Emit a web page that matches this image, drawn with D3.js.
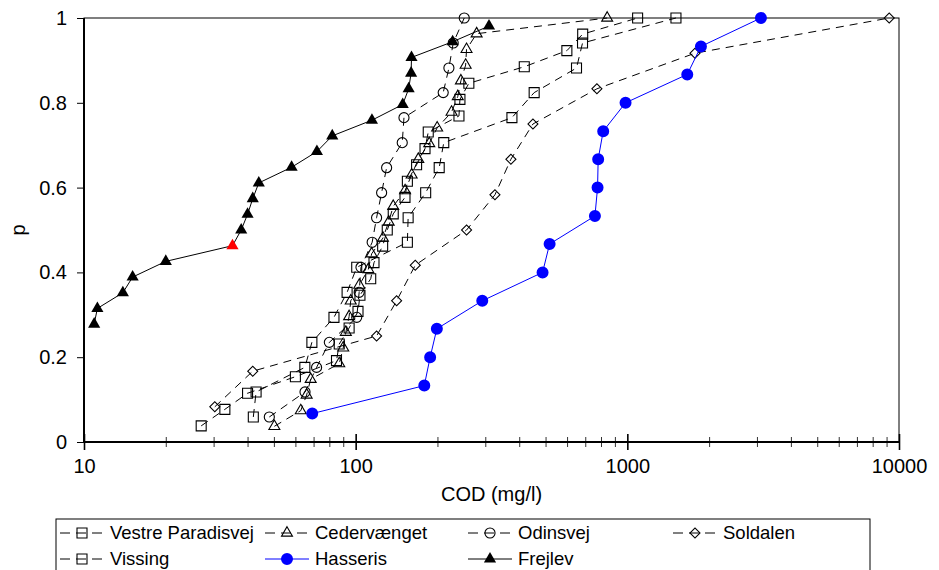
<!DOCTYPE html>
<html>
<head>
<meta charset="utf-8">
<script src="https://cdn.jsdelivr.net/npm/d3@7"></script>
<style>
  body { margin: 0; background: #fff; }
  text { font-family: "Liberation Sans", Arial, sans-serif; }
</style>
</head>
<body>
<div id="chart"></div>
<script>

// Chart size and plot box
const width = 939;
const height = 570;
const margin = {left: 84, right: 40, top: 18, bottom: 128};

// COD values (mg/l) and plotting positions p for each site
const vestreCOD = [27, 33, 40, 60, 85, 87, 94.6, 102, 103.7, 113.6, 116.8, 125.7, 130.7, 137.5, 151.9, 155, 167.6, 180, 185, 240, 242, 261, 417.5, 599, 685, 1091];
const vestreP = [0.038, 0.077, 0.115, 0.154, 0.192, 0.231, 0.269, 0.308, 0.346, 0.385, 0.423, 0.462, 0.5, 0.538, 0.577, 0.615, 0.654, 0.692, 0.731, 0.769, 0.808, 0.846, 0.885, 0.923, 0.962, 1];

const cederCOD = [50.2, 62.8, 66, 68.3, 87, 90, 92, 94.6, 95.9, 103.1, 111.3, 114.5, 126, 132.3, 137.5, 152, 160.7, 170, 186.6, 199.5, 225.4, 237.6, 244, 254, 255.9, 278.8, 843];
const cederP = [0.037, 0.074, 0.111, 0.148, 0.185, 0.222, 0.259, 0.296, 0.333, 0.370, 0.407, 0.444, 0.481, 0.519, 0.556, 0.593, 0.630, 0.667, 0.704, 0.741, 0.778, 0.815, 0.852, 0.889, 0.926, 0.963, 1];

const odinCOD = [48.1, 65.1, 71.8, 80, 100.9, 103, 104.6, 115, 119.4, 124.6, 130, 148.4, 150.6, 210, 220.4, 228.6, 251];
const odinP = [0.059, 0.118, 0.176, 0.235, 0.294, 0.353, 0.412, 0.471, 0.529, 0.588, 0.647, 0.706, 0.765, 0.824, 0.882, 0.941, 1];

const solCOD = [30.3, 41.8, 119.4, 141.5, 165.7, 256, 325.6, 372.8, 449.3, 772.7, 1774, 9205];
const solP = [0.083, 0.167, 0.25, 0.333, 0.417, 0.5, 0.583, 0.667, 0.75, 0.833, 0.917, 1];

const vissCOD = [42, 43, 65, 69, 83.2, 93, 100.9, 155, 156, 181, 203, 211, 376, 454, 650, 684, 1510];
const vissP = [0.059, 0.118, 0.176, 0.235, 0.294, 0.353, 0.412, 0.471, 0.529, 0.588, 0.647, 0.706, 0.765, 0.824, 0.882, 0.941, 1];

const hassCOD = [69.2, 178.9, 188, 199, 292.4, 487.5, 517.5, 759.8, 777, 781, 815, 985, 1662, 1866, 3103];
const hassP = [0.067, 0.133, 0.2, 0.267, 0.333, 0.4, 0.467, 0.533, 0.6, 0.667, 0.733, 0.8, 0.867, 0.933, 1];

const frejCOD = [10.9, 11.2, 13.9, 15.1, 20, 35.2, 37.9, 40, 41.8, 44, 58.1, 72, 82, 114.8, 149, 156.7, 160, 160.5, 227.5, 309.6];
const frejP = [0.278, 0.315, 0.352, 0.389, 0.426, 0.463, 0.5, 0.537, 0.574, 0.611, 0.648, 0.685, 0.722, 0.759, 0.796, 0.833, 0.870, 0.907, 0.944, 0.981];
const frejRed = 35.2; // the one highlighted point

// axis ticks
const xMajor = [10, 100, 1000, 10000];
const yTicks = [0, 0.2, 0.4, 0.6, 0.8, 1];

// series list (built from the arrays above)
const series = [
  {name: "Vestre Paradisvej", cod: vestreCOD, p: vestreP, sym: "square", dash: true, color: "#000", fill: "none"},
  {name: "Cedervænget", cod: cederCOD, p: cederP, sym: "triangle", dash: true, color: "#000", fill: "none"},
  {name: "Odinsvej", cod: odinCOD, p: odinP, sym: "circle", dash: true, color: "#000", fill: "none"},
  {name: "Soldalen", cod: solCOD, p: solP, sym: "diamond", dash: true, color: "#000", fill: "none"},
  {name: "Vissing", cod: vissCOD, p: vissP, sym: "square", dash: true, color: "#000", fill: "none"},
  {name: "Hasseris", cod: hassCOD, p: hassP, sym: "dot", dash: false, color: "#0000ff", fill: "#0000ff"},
  {name: "Frejlev", cod: frejCOD, p: frejP, sym: "filltri", dash: false, color: "#000", fill: "#000"}
];

const svg = d3.select("#chart")
  .append("svg")
  .attr("width", width)
  .attr("height", height);

// scales
const x = d3.scaleLog()
  .domain([10, 10000])
  .range([margin.left, width - margin.right]);

const y = d3.scaleLinear()
  .domain([0, 1])
  .range([height - margin.bottom, margin.top]);

const x0 = x.range()[0], x1 = x.range()[1];
const y0 = y.range()[0], y1 = y.range()[1];

// plot frame (top and right thin)
svg.append("rect")
  .attr("x", x0).attr("y", y1)
  .attr("width", x1 - x0).attr("height", y0 - y1)
  .attr("fill", "none").attr("stroke", "#000").attr("stroke-width", 1);

// minor x ticks crossing the axis
const xMinor = x.ticks().filter(v => !xMajor.includes(v));
svg.append("g")
  .attr("transform", `translate(0,${y0})`)
  .call(d3.axisBottom(x).tickValues(xMinor).tickFormat("").tickSize(5))
  .call(g => g.select(".domain").remove())
  .call(g => g.selectAll(".tick line").attr("y1", -5).attr("stroke", "#333"));

// major x ticks and labels
svg.append("g")
  .attr("transform", `translate(0,${y0})`)
  .call(d3.axisBottom(x).tickValues(xMajor).tickFormat(d3.format("d")).tickSize(8).tickPadding(9))
  .call(g => g.select(".domain").remove())
  .call(g => g.selectAll(".tick line").attr("y1", -8).attr("stroke-width", 1.6))
  .call(g => g.selectAll("text").attr("font-size", "20px").attr("fill", "#000").attr("font-family", "Liberation Sans, Arial, sans-serif"));

// y axis
svg.append("g")
  .attr("transform", `translate(${x0},0)`)
  .call(d3.axisLeft(y).tickValues(yTicks).tickFormat(d => String(d)).tickSize(7).tickPadding(10))
  .call(g => g.select(".domain").remove())
  .call(g => g.selectAll("text").attr("font-size", "20px").attr("fill", "#000").attr("font-family", "Liberation Sans, Arial, sans-serif"));

// thicker left and bottom axis lines
svg.append("line").attr("x1", x0).attr("x2", x0).attr("y1", y1).attr("y2", y0 + 1)
  .attr("stroke", "#000").attr("stroke-width", 2);
svg.append("line").attr("x1", x0 - 1).attr("x2", x1).attr("y1", y0).attr("y2", y0)
  .attr("stroke", "#000").attr("stroke-width", 2);

// axis titles
svg.append("text")
  .attr("x", (x0 + x1) / 2).attr("y", 501)
  .attr("text-anchor", "middle").attr("font-size", "20px")
  .text("COD (mg/l)");

svg.append("text")
  .attr("transform", `translate(25,${(y0 + y1) / 2}) rotate(-90)`)
  .attr("text-anchor", "middle").attr("font-size", "20px")
  .text("p");

// marker drawing helper
function marker(sel, sym, color, fill) {
  let path;
  if (sym === "square") path = d3.symbol(d3.symbolSquare, 100)();
  else if (sym === "triangle") path = d3.symbol(d3.symbolTriangle, 52)();
  else if (sym === "circle") path = d3.symbol(d3.symbolCircle, 80)();
  else if (sym === "diamond") path = d3.symbol(d3.symbolSquare, 50)();
  else if (sym === "dot") path = d3.symbol(d3.symbolCircle, 113)();
  else path = d3.symbol(d3.symbolTriangle, 64)();
  sel.append("path")
    .attr("d", path)
    .attr("transform", sym === "diamond" ? "rotate(45)" : null)
    .attr("fill", fill)
    .attr("stroke", color)
    .attr("stroke-width", sym === "dot" || sym === "filltri" ? 0 : 1.1);
}

const line = d3.line()
  .x(d => x(d[0]))
  .y(d => y(d[1]));

// lines and markers for each series
series.forEach(s => {
  const pts = s.cod.map((c, i) => [c, s.p[i]]);
  svg.append("path")
    .datum(pts)
    .attr("d", line)
    .attr("fill", "none")
    .attr("stroke", s.color)
    .attr("stroke-width", 1)
    .attr("stroke-dasharray", s.dash ? "8,6" : null);

  svg.selectAll(null)
    .data(pts)
    .enter()
    .append("g")
      .attr("transform", d => `translate(${x(d[0])},${y(d[1])})`)
      .each(function(d) {
        const red = s.name === "Frejlev" && d[0] === frejRed;
        marker(d3.select(this), s.sym, red ? "#ff0000" : s.color, red ? "#ff0000" : s.fill);
      });
});

// legend box
svg.append("rect")
  .attr("x", 56).attr("y", 519)
  .attr("width", 814).attr("height", 60)
  .attr("fill", "#fff").attr("stroke", "#000").attr("stroke-width", 1);

const legendPos = [
  [82, 533], [287, 533], [490, 533], [695, 533],
  [82, 559], [287, 559], [490, 559]
];

series.forEach((s, i) => {
  const [lx, ly] = legendPos[i];
  const g = svg.append("g");
  g.append("line")
    .attr("x1", lx - 22).attr("x2", lx + 22)
    .attr("y1", ly).attr("y2", ly)
    .attr("stroke", s.color).attr("stroke-width", 1)
    .attr("stroke-dasharray", s.dash ? "10,6" : null);
  const m = g.append("g").attr("transform", `translate(${lx},${ly})`);
  marker(m, s.sym, s.color, s.fill);
  g.append("text")
    .attr("x", lx + 28).attr("y", ly)
    .attr("dy", "0.35em")
    .attr("font-size", "18.5px")
    .text(s.name);
});

</script>
</body>
</html>
